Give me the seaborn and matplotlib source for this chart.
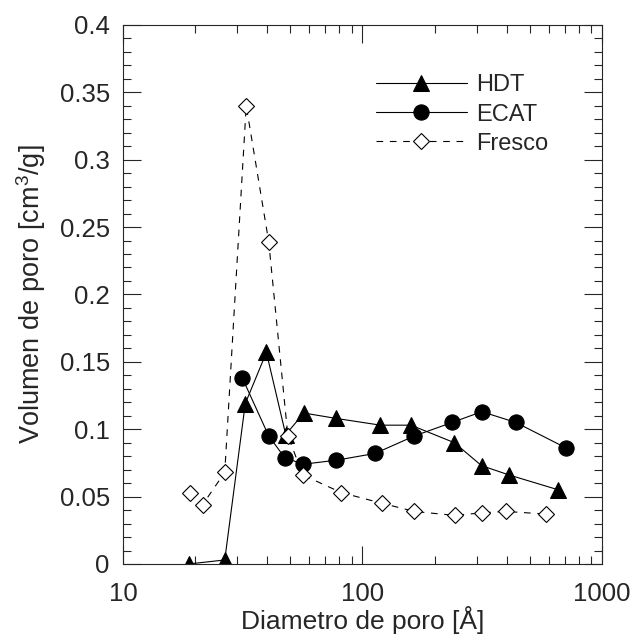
import numpy as np
import pandas as pd
import seaborn as sns
import matplotlib
matplotlib.use("Agg")
import matplotlib.pyplot as plt
from matplotlib.ticker import LogLocator, MultipleLocator, NullFormatter

# pore diameter [A] and pore volume [cm3/g]
hdt_d = [18.8, 26.6, 32.4, 39.7, 47.8, 56.9, 77.7, 118.9, 159.5, 241.8, 314, 410, 658]
hdt_v = [0.0, 0.003, 0.119, 0.157, 0.096, 0.112, 0.108, 0.103, 0.103, 0.090, 0.073, 0.066, 0.055]

ecat_d = [31.5, 40.6, 47.3, 56.4, 77.7, 112.7, 164.7, 236.5, 315, 437, 710]
ecat_v = [0.138, 0.095, 0.079, 0.074, 0.077, 0.082, 0.095, 0.105, 0.113, 0.105, 0.086]

fresco_d = [19.0, 21.5, 26.6, 32.7, 40.6, 48.8, 56.4, 81.5, 120.8, 164.7, 244, 315, 397, 586]
fresco_v = [0.053, 0.044, 0.068, 0.340, 0.239, 0.095, 0.066, 0.053, 0.045, 0.039, 0.036, 0.038, 0.039, 0.037]

x_ticks = [10, 100, 1000]
x_ticklabels = ["10", "100", "1000"]
y_ticks = [0, 0.05, 0.1, 0.15, 0.2, 0.25, 0.3, 0.35, 0.4]
y_ticklabels = ["0", "0.05", "0.1", "0.15", "0.2", "0.25", "0.3", "0.35", "0.4"]

sns.set_style("ticks")
plt.rcParams["font.family"] = ["Liberation Sans", "DejaVu Sans"]
plt.rcParams["mathtext.fontset"] = "custom"
plt.rcParams["mathtext.rm"] = "Liberation Sans"
plt.rcParams["mathtext.it"] = "Liberation Sans"

fig = plt.figure(figsize=(6.34, 6.38), dpi=100)
ax = fig.add_axes([0.194, 0.116, 0.7555, 0.845])

sns.lineplot(x=hdt_d, y=hdt_v, ax=ax, color="k", lw=0.8, marker="^", ms=11,
             mfc="k", mec="k", label="HDT")
sns.lineplot(x=ecat_d, y=ecat_v, ax=ax, color="k", lw=0.8, marker="o", ms=11,
             mfc="k", mec="k", label="ECAT")
sns.lineplot(x=fresco_d, y=fresco_v, ax=ax, color="k", lw=0.8, marker="D", ms=8,
             mfc="white", mec="k", mew=0.8, ls=(0, (6, 6)), label="Fresco")

ax.set_xscale("log")
ax.set_xlim(10, 1000)
ax.set_ylim(0, 0.4)
ax.set_xticks(x_ticks)
ax.set_xticklabels(x_ticklabels)
ax.xaxis.set_minor_locator(LogLocator(base=10, subs=np.arange(2, 10)))
ax.xaxis.set_minor_formatter(NullFormatter())
ax.set_yticks(y_ticks)
ax.set_yticklabels(y_ticklabels)
ax.yaxis.set_minor_locator(MultipleLocator(0.01))

ax.tick_params(which="both", direction="in", top=True, right=True, labelsize=18.5, width=0.8)
ax.tick_params(which="major", length=13)
ax.tick_params(which="minor", length=6)
ax.tick_params(axis="x", which="major", pad=13)
ax.tick_params(axis="y", which="major", pad=9.5)
for s in ax.spines.values():
    s.set_linewidth(0.8)
    s.set_visible(True)

ax.set_xlabel("Diametro de poro [Å]", fontsize=19, labelpad=0)
ax.set_ylabel("Volumen de poro [cm$^3$/g]", fontsize=19.5, labelpad=8)

ax.legend(loc="upper left", bbox_to_anchor=(0.528, 0.908), frameon=False, fontsize=17,
          handlelength=3.85, handletextpad=0.38, labelspacing=0.3, borderpad=0,
          borderaxespad=0)

fig.savefig("out.png", dpi=100)
